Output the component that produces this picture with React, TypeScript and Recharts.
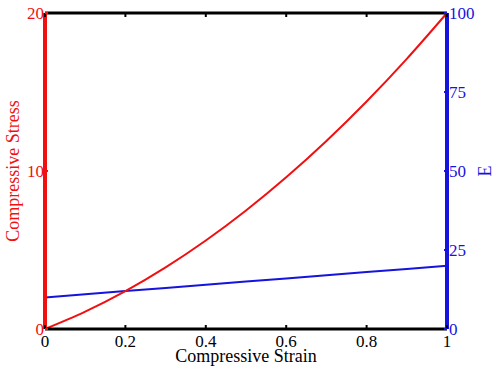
import { ComposedChart, Line, XAxis, YAxis, Label } from 'recharts';

const strain = [0, 0.1, 0.2, 0.3, 0.4, 0.5, 0.6, 0.7, 0.8, 0.9, 1];
const stress = [0, 1.1, 2.4, 3.9, 5.6, 7.5, 9.6, 11.9, 14.4, 17.1, 20];
const modulus = [10, 11, 12, 13, 14, 15, 16, 17, 18, 19, 20];

const strainTicks = [0, 0.2, 0.4, 0.6, 0.8, 1];
const stressTicks = [0, 10, 20];
const modulusTicks = [0, 25, 50, 75, 100];

const RED = '#f01010';
const BLUE = '#1414dc';
const FONT = '"Liberation Serif", "DejaVu Serif", serif';

const data = strain.map((s, i) => ({ strain: s, stress: stress[i], E: modulus[i] }));

const BottomTick = (props: any) => {
  const { x, y, payload } = props;
  return (
    <g>
      <line x1={x} x2={x} y1={y} y2={y - 4} stroke="#000" strokeWidth={2} />
      <text x={x} y={y + 18} textAnchor="middle" fill="#000" fontSize={17} fontFamily={FONT}>
        {String(payload.value)}
      </text>
    </g>
  );
};

const TopTick = (props: any) => {
  const { x, y } = props;
  return <line x1={x} x2={x} y1={y} y2={y + 4} stroke="#000" strokeWidth={2} />;
};

const LeftTick = (props: any) => {
  const { x, y, payload } = props;
  return (
    <g>
      <line x1={x} x2={x + 3} y1={y} y2={y} stroke={RED} strokeWidth={2} />
      <text x={x - 1} y={y + 6} textAnchor="end" fill={RED} fontSize={17} fontFamily={FONT}>
        {String(payload.value)}
      </text>
    </g>
  );
};

const RightTick = (props: any) => {
  const { x, y, payload } = props;
  return (
    <g>
      <line x1={x} x2={x - 3} y1={y} y2={y} stroke={BLUE} strokeWidth={2} />
      <text x={x + 2} y={y + 6} textAnchor="start" fill={BLUE} fontSize={17} fontFamily={FONT}>
        {String(payload.value)}
      </text>
    </g>
  );
};

const App = () => (
  <div style={{ position: 'absolute', left: 0, top: 0, width: 500, height: 370 }}>
    <ComposedChart width={500} height={370} data={data} margin={{ top: 12, right: 0, bottom: 0, left: 0 }}>
      <XAxis
        xAxisId="bottom"
        dataKey="strain"
        type="number"
        domain={[0, 1]}
        ticks={strainTicks}
        interval={0}
        height={41}
        tickSize={0}
        tickMargin={0}
        tickLine={false}
        tick={BottomTick}
        axisLine={{ stroke: '#000', strokeWidth: 3 }}
      >
        <Label
          content={({ viewBox }: any) => (
            <text
              x={viewBox.x + viewBox.width / 2}
              y={viewBox.y + 33}
              textAnchor="middle"
              fill="#000"
              fontSize={18}
              fontFamily={FONT}
            >
              Compressive Strain
            </text>
          )}
        />
      </XAxis>
      <XAxis
        xAxisId="top"
        orientation="top"
        dataKey="strain"
        type="number"
        domain={[0, 1]}
        ticks={strainTicks}
        interval={0}
        height={1}
        tickSize={0}
        tickMargin={0}
        tickLine={false}
        tick={TopTick}
        axisLine={{ stroke: '#000', strokeWidth: 3 }}
      />
      <YAxis
        yAxisId="left"
        orientation="left"
        type="number"
        domain={[0, 20]}
        ticks={stressTicks}
        interval={0}
        width={45}
        tickSize={0}
        tickMargin={0}
        tickLine={false}
        tick={LeftTick}
        axisLine={{ stroke: RED, strokeWidth: 4 }}
      >
        <Label
          content={({ viewBox }: any) => {
            const cx = viewBox.x + 13;
            const cy = viewBox.y + viewBox.height / 2;
            return (
              <text
                x={cx}
                y={cy}
                transform={`rotate(-90 ${cx} ${cy})`}
                textAnchor="middle"
                dominantBaseline="central"
                fill={RED}
                fontSize={18}
                fontFamily={FONT}
              >
                Compressive Stress
              </text>
            );
          }}
        />
      </YAxis>
      <YAxis
        yAxisId="right"
        orientation="right"
        type="number"
        domain={[0, 100]}
        ticks={modulusTicks}
        interval={0}
        width={53}
        tickSize={0}
        tickMargin={0}
        tickLine={false}
        tick={RightTick}
        axisLine={{ stroke: BLUE, strokeWidth: 4 }}
      >
        <Label
          content={({ viewBox }: any) => {
            const cx = viewBox.x + 38;
            const cy = viewBox.y + viewBox.height / 2;
            return (
              <text
                x={cx}
                y={cy}
                transform={`rotate(-90 ${cx} ${cy})`}
                textAnchor="middle"
                dominantBaseline="central"
                fill={BLUE}
                fontSize={18}
                fontFamily={FONT}
              >
                E
              </text>
            );
          }}
        />
      </YAxis>
      <Line
        xAxisId="bottom"
        yAxisId="right"
        dataKey="E"
        type="linear"
        stroke={BLUE}
        strokeWidth={2}
        dot={false}
        isAnimationActive={false}
      />
      <Line
        xAxisId="bottom"
        yAxisId="left"
        dataKey="stress"
        type="monotone"
        stroke={RED}
        strokeWidth={2}
        dot={false}
        isAnimationActive={false}
      />
    </ComposedChart>
  </div>
);

export default App;
